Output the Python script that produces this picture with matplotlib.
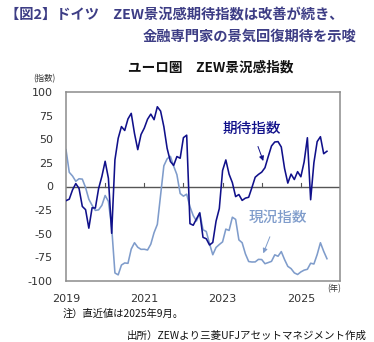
import numpy as np
import matplotlib
matplotlib.use("Agg")
import matplotlib.pyplot as plt

plt.rcParams['font.family'] = ['DejaVu Sans', 'Noto Sans CJK JP']
JP = ['Noto Sans CJK JP', 'DejaVu Sans']

# Monthly data, Jan 2019 - Sep 2025
expectations = [
    -15.0, -13.4, -3.6, 3.1, -2.1, -21.1, -24.5, -44.1, -22.5, -22.8, -2.1, 10.7,
    26.7, 8.7, -49.5, 28.2, 51.0, 63.4, 59.3, 71.5, 77.4, 56.1, 39.0, 55.0,
    61.8, 71.2, 76.6, 70.7, 84.4, 79.8, 63.3, 40.4, 26.5, 22.3, 31.7, 29.9,
    51.7, 54.3, -39.3, -41.0, -34.3, -28.0, -53.8, -55.3, -61.9, -59.2, -36.7, -23.3,
    16.9, 28.1, 13.0, 4.1, -10.7, -8.5, -14.7, -12.3, -11.4, -1.1, 9.8, 12.8,
    15.2, 19.9, 31.7, 42.9, 47.1, 47.5, 41.8, 19.2, 3.6, 13.1, 7.4, 15.7,
    10.3, 26.0, 51.6, -14.0, 25.2, 47.5, 52.7, 34.7, 37.3,
]
current = [
    39.0, 15.0, 11.1, 5.5, 8.2, 7.8, -1.1, -13.5, -19.9, -25.3, -24.7, -19.9,
    -9.5, -15.7, -43.1, -91.5, -93.5, -83.1, -80.9, -81.3, -66.2, -59.5, -64.3, -66.5,
    -66.4, -67.2, -61.0, -48.8, -40.1, -9.1, 21.9, 29.3, 31.9, 21.6, 12.5, -7.4,
    -10.2, -8.1, -21.4, -30.8, -36.5, -27.6, -45.8, -47.6, -60.5, -72.2, -64.5, -61.4,
    -58.6, -45.1, -46.5, -32.5, -34.8, -56.5, -59.5, -71.3, -79.4, -79.9, -79.8, -77.1,
    -77.3, -81.7, -80.5, -79.2, -72.3, -73.8, -68.9, -77.3, -84.5, -86.9, -91.4, -93.1,
    -90.4, -88.5, -87.6, -81.2, -82.0, -72.0, -59.5, -68.6, -76.4,
]
start_year = 2019
x_tick_years = [2019, 2021, 2023, 2025]
y_ticks = [100, 75, 50, 25, 0, -25, -50, -75, -100]

t = start_year + np.arange(len(expectations)) / 12.0

W, H = 374, 342
fig = plt.figure(figsize=(W / 100, H / 100), dpi=100)
ax = fig.add_axes([66 / W, 1 - 281 / H, 274 / W, 189 / H])

dark = '#10108a'
light = '#7f9ccb'

ax.axhline(0, color='#555555', lw=1.0, zorder=1)
for yr in range(2020, 2026):
    ax.plot([yr, yr], [0, 3.5], color='#555555', lw=0.8, zorder=1)

ax.plot(t, current, color=light, lw=1.15, zorder=2)
ax.plot(t, expectations, color=dark, lw=1.15, zorder=3)

ax.set_xlim(2019, 2026)
ax.set_ylim(-100, 100)
ax.set_yticks(y_ticks)
ax.set_yticklabels([str(v) for v in y_ticks])
ax.set_xticks(x_tick_years)
ax.set_xticklabels([str(v) for v in x_tick_years])
ax.tick_params(axis='both', length=0, labelsize=8, colors='#333333')
ax.tick_params(axis='y', pad=9.5)
ax.tick_params(axis='x', pad=9)
for lbl in ax.get_xticklabels():
    lbl.set_x(lbl.get_position()[0])
for sp in ax.spines.values():
    sp.set_color('#8c8c8c')
    sp.set_linewidth(1.1)

# annotations
ax.annotate('期待指数', xy=(2024.04, 27), xytext=(2023.74, 61),
            ha='center', va='center', fontsize=10.5, color=dark, family=JP,
            fontweight='medium',
            arrowprops=dict(arrowstyle='-|>', color=dark, lw=0.7,
                            mutation_scale=7, shrinkA=6, shrinkB=0))
ax.annotate('現況指数', xy=(2024.04, -70.7), xytext=(2024.40, -33.3),
            ha='center', va='center', fontsize=10.5, color=light, family=JP,
            fontweight='medium',
            arrowprops=dict(arrowstyle='-|>', color=light, lw=0.7,
                            mutation_scale=7, shrinkA=7, shrinkB=0))

# titles and notes
title_c = '#3d3d85'
fig.text(5 / W, 1 - 15 / H, '【図2】ドイツ　ZEW景況感期待指数は改善が続き、',
         family=JP, fontsize=10.3, fontweight='bold', color=title_c,
         ha='left', va='center')
fig.text(143 / W, 1 - 37 / H, '金融専門家の景気回復期待を示唆',
         family=JP, fontsize=10.3, fontweight='bold', color=title_c,
         ha='left', va='center')
fig.text(211 / W, 1 - 68 / H, 'ユーロ圏　ZEW景況感指数',
         family=JP, fontsize=9.8, fontweight='semibold', color='#111111',
         ha='center', va='center')
fig.text(44 / W, 1 - 79 / H, '(指数)', family=JP, fontsize=6,
         color='#333333', ha='center', va='center')
fig.text(334 / W, 1 - 289 / H, '(年)', family=JP, fontsize=6,
         color='#333333', ha='center', va='center')
fig.text(63 / W, 1 - 314 / H, '注）直近値は2025年9月。', family=JP,
         fontsize=7.4, color='#111111', ha='left', va='center')
fig.text(367 / W, 1 - 336 / H, '出所）ZEWより三菱UFJアセットマネジメント作成',
         family=JP, fontsize=7.55, color='#111111', ha='right', va='center')

fig.savefig('out.png', dpi=100)
